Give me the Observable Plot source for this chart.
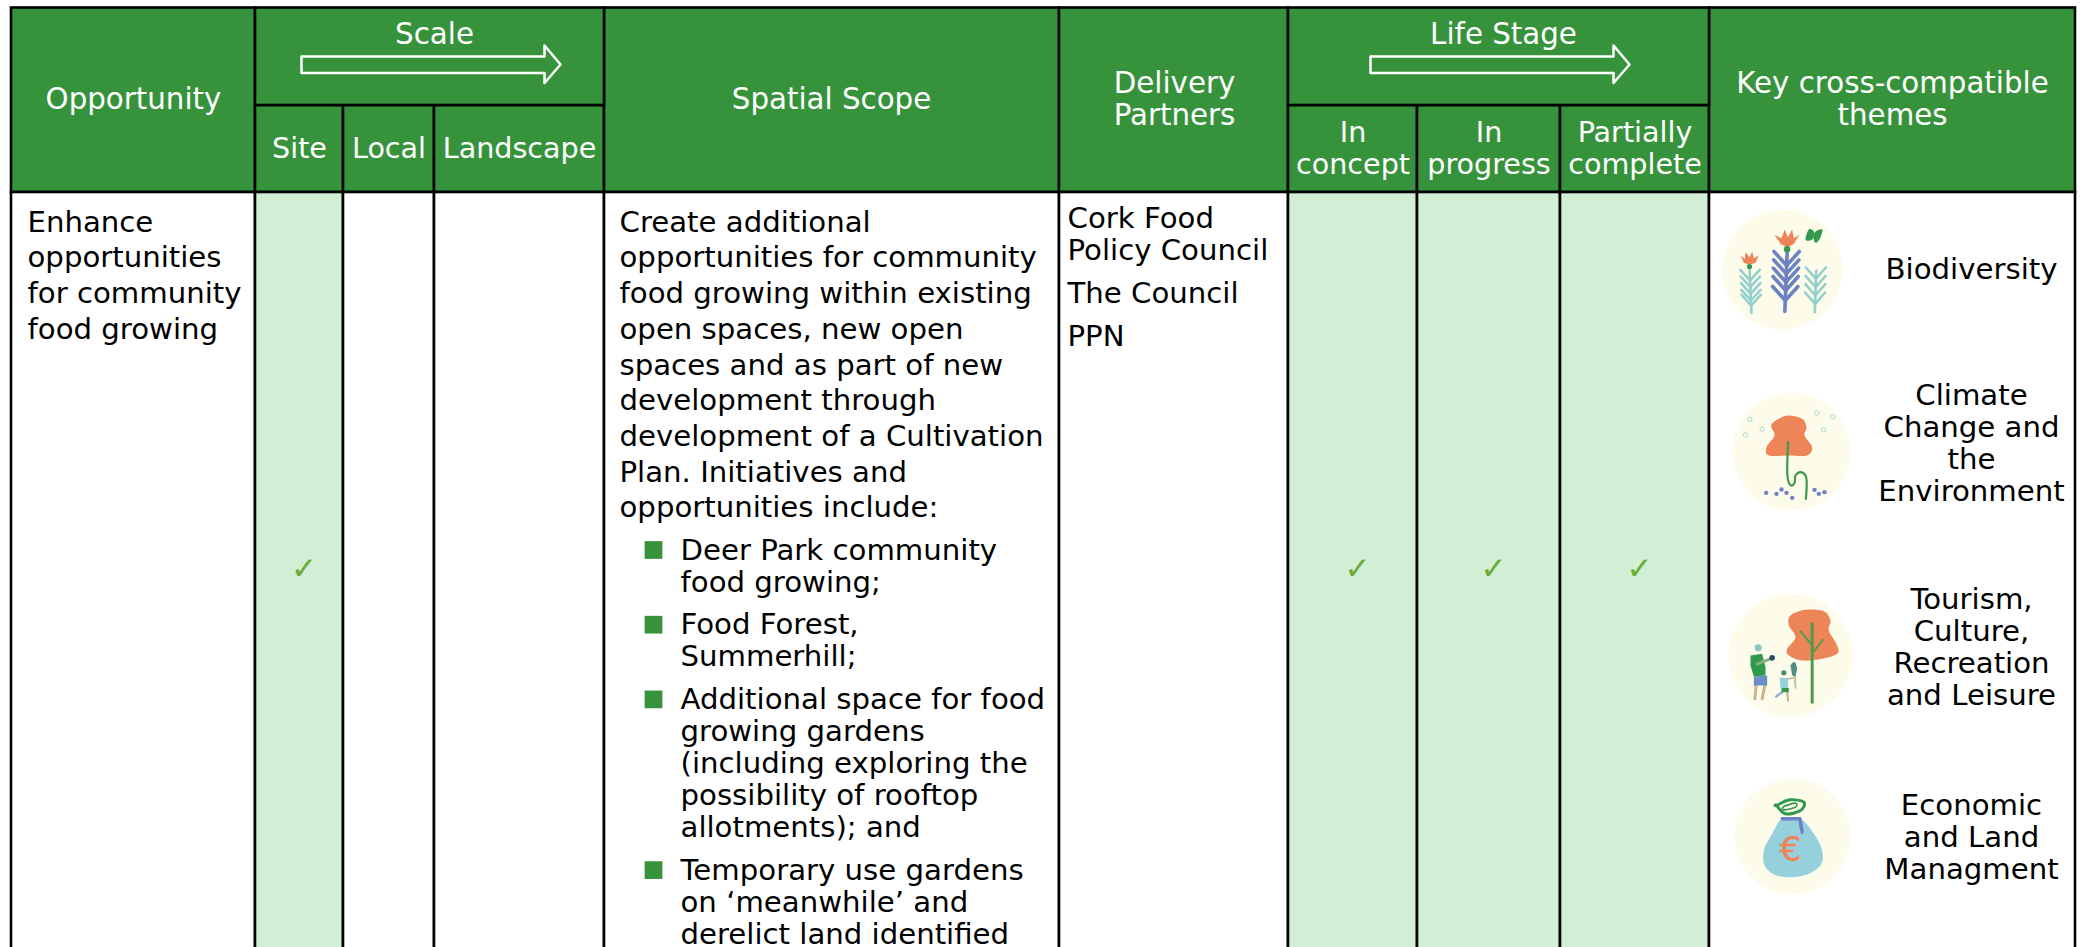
<!DOCTYPE html>
<html><head><meta charset="utf-8">
<script src="https://cdn.jsdelivr.net/npm/d3@7"></script>
<script src="https://cdn.jsdelivr.net/npm/@observablehq/plot@0.6"></script>
<style>html,body{margin:0;padding:0;background:#fff;overflow:hidden}svg{display:block}</style>
</head><body><div id="c"></div>
<script>
// --- table content ---
const headers = ["Opportunity","Spatial Scope","Delivery\nPartners","Key cross-compatible\nthemes"];
const groupHeaders = ["Scale","Life Stage"];
const scaleColumns = ["Site","Local","Landscape"];
const stageColumns = ["In\nconcept","In\nprogress","Partially\ncomplete"];
const ticked = ["Site","In\nconcept","In\nprogress","Partially\ncomplete"];
const opportunity = ["Enhance","opportunities","for community","food growing"];
const scopeIntro = ["Create additional","opportunities for community","food growing within existing","open spaces, new open","spaces and as part of new","development through","development of a Cultivation","Plan. Initiatives and","opportunities include:"];
const scopeBullets = [["Deer Park community","food growing;"],["Food Forest,","Summerhill;"],["Additional space for food","growing gardens","(including exploring the","possibility of rooftop","allotments); and"],["Temporary use gardens","on ‘meanwhile’ and","derelict land identified"]];
const partners = [["Cork Food","Policy Council"],["The Council"],["PPN"]];
const themes = ["Biodiversity","Climate\nChange and\nthe\nEnvironment","Tourism,\nCulture,\nRecreation\nand Leisure","Economic\nand Land\nManagment"];

// --- layout of the page, in the picture's pixels ---
const W=2089,H=947, yTop=7.5, yMid=105, yBot=192, edges=[11,255,343,434,604,1059,1288,1417,1560,1709,2075];
const green="#36933c", pale="#d2eed4", fs=29.2, headFs=29.3, subFs=28.6;
const cols=[
 {name:"Opportunity",i:0,group:0},{name:"Site",i:1},{name:"Local",i:2},{name:"Landscape",i:3},
 {name:"Spatial Scope",i:4,group:0},{name:"Delivery\nPartners",i:5,group:0},
 {name:"In\nconcept",i:6},{name:"In\nprogress",i:7},{name:"Partially\ncomplete",i:8},
 {name:"Key cross-compatible\nthemes",i:9,group:0}];
const cells=[];
for(const c of cols){
  cells.push({x1:edges[c.i],x2:edges[c.i+1],y1:c.group===0?yTop:yMid,y2:yBot,fill:green});
  cells.push({x1:edges[c.i],x2:edges[c.i+1],y1:yBot,y2:H+10,fill:ticked.includes(c.name)?pale:"white"});
}
cells.push({x1:edges[1],x2:edges[4],y1:yTop,y2:yMid,fill:green});
cells.push({x1:edges[6],x2:edges[9],y1:yTop,y2:yMid,fill:green});

const mx=c=>(edges[c.i]+edges[c.i+1])/2;
const headLabels=[
 {t:headers[0],x:133,y:98},{t:headers[1],x:831,y:98},{t:headers[2],x:1174,y:98},{t:headers[3],x:1892,y:98},
 {t:groupHeaders[0],x:434,y:33},{t:groupHeaders[1],x:1503,y:33}
];
const subLabels=cols.filter(c=>scaleColumns.includes(c.name)||stageColumns.includes(c.name)).map(c=>({t:c.name,x:mx(c),y:147}));
const body=[];
opportunity.forEach((t,k)=>body.push({t,x:27,y:221+k*35.7}));
scopeIntro.forEach((t,k)=>body.push({t,x:619,y:221+k*35.7}));
const bullets=[]; let by=549;
scopeBullets.forEach((b,k)=>{bullets.push({x:653,y:by+0.5});b.forEach(t=>{body.push({t,x:680,y:by});by+=32});by+=10.7;});
let py=217; partners.forEach((p,k)=>{p.forEach(t=>{body.push({t,x:1067,y:py});py+=32});py+=11});
const themeY=[268,442,646,836];
const themeLabels=themes.map((t,k)=>({t,x:1971,y:themeY[k]}));
const checks=ticked.map(n=>mx(cols.find(c=>c.name===n))).map(x=>({x:x+4.5,y:569}));
const arrowSpans=[[301,560],[1370,1629]];
const arrows=arrowSpans.map(([a,b])=>[[a,56],[b-16,56],[b-16,45],[b,64],[b-16,82.5],[b-16,72.5],[a,72.5],[a,56]].map(([x,y])=>({x,y})));

// --- theme icons: outlines, in crop coordinates ---
const cream="#fdfceb", orange="#ee8559", leafGreen="#2f9a4c", blue="#6c82c4", teal="#93d0cb", sky="#95d0dc";
const P=(ox,oy,pts)=>pts.map(([x,y])=>({x:ox+x/3,y:oy+y/3}));
const blob=(pts,fill,curve="cardinal-closed")=>Plot.line(pts,{x:"x",y:"y",fill,stroke:"none",curve});
const wire=(pts,stroke,strokeWidth=2,curve="linear")=>Plot.line(pts,{x:"x",y:"y",stroke,strokeWidth,curve});
const badges=[{x:1782,y:269,r:60},{x:1791,y:451,r:59},{x:1790,y:655,r:62},{x:1792,y:836,r:58}];

const A=(p)=>P(1725,205,p), B=(p)=>P(1700,190,p), C=(p)=>P(1735,590,p), D=(p)=>P(1700,570,p);
const fern=(xb,yb,xt,yt,ys,dx,dy,color,w)=>[wire(A([[xb,yb],[xt,yt]]),color,w),
  ...ys.flatMap(v=>{const sx=xb+(xt-xb)*(yb-v)/(yb-yt);return [wire(A([[sx,v],[sx-dx,v-dy]]),color,w),wire(A([[sx,v],[sx+dx,v-dy]]),color,w)]})];
const iconMarks=[
 Plot.dot(badges,{x:"x",y:"y",r:"r",fill:cream}),
 // biodiversity
 ...fern(78,322,72,190,[225,245,265,285,300],29,32,teal,2.6),
 ...fern(178,318,185,140,[180,205,230,255,285],38,42,blue,3.6),
 ...fern(268,320,272,195,[220,245,270,295],30,34,teal,2.6),
 blob(A([[45,150],[58,160],[60,140],[72,155],[80,138],[85,158],[100,150],[90,172],[72,178],[55,172]]),orange,"linear-closed"),
 blob(A([[147,88],[168,98],[178,72],[187,95],[200,72],[205,98],[222,88],[205,115],[185,127],[165,115]]),orange,"linear-closed"),
 Plot.dot(A([[72,183]]),{x:"x",y:"y",r:2.6,fill:leafGreen}),
 Plot.dot(A([[185,131]]),{x:"x",y:"y",r:3.2,fill:leafGreen}),
 blob(A([[240,100],[250,72],[265,78],[262,100],[248,106]]),leafGreen,"cardinal-closed"),
 blob(A([[268,80],[290,72],[285,95],[272,112],[264,100]]),leafGreen,"cardinal-closed"),
 // climate
 blob(B([[265,675],[305,685],[318,710],[312,735],[335,770],[320,795],[265,795],[205,795],[198,770],[222,735],[212,705],[235,685]]),orange),
 wire(B([[263,755],[263,870],[272,885],[282,878],[285,855],[300,845],[315,855],[316,925]]),"#3a9a48",2.2,"catmull-rom"),
 Plot.dot(B([[197,907],[228,910],[243,897],[258,907],[275,922],[342,898],[355,910],[372,905]]),{x:"x",y:"y",r:2.2,fill:blue}),
 Plot.dot(B([[148,687],[185,716],[135,733],[349,668],[397,679],[370,718]]),{x:"x",y:"y",r:2.2,stroke:teal,strokeWidth:0.8,fill:"none"}),
 // tourism
 blob(C([[165,75],[210,58],[265,62],[285,90],[280,120],[305,165],[305,190],[260,205],[200,210],[160,195],[155,175],[180,140],[160,105]]),orange),
 wire(C([[230,100],[230,335]]),"#4f9a4a",3),
 wire(C([[195,122],[230,165]]),"#5a9a4a",2),wire(C([[262,148],[230,190]]),"#5a9a4a",2),
 wire(C([[62,285],[58,325]]),"#c9b48e",3),wire(C([[88,285],[80,325]]),"#c9b48e",3),
 blob(C([[55,258],[95,255],[95,285],[55,285]]),"#6c8fc8","linear-closed"),
 blob(C([[45,195],[80,190],[90,230],[90,255],[55,258],[45,225]]),leafGreen,"linear-closed"),
 Plot.dot(C([[68,172]]),{x:"x",y:"y",r:3.6,fill:"#8fc5c5"}),
 wire(C([[65,220],[105,205]]),"#7fb37a",3),
 Plot.dot(C([[110,202]]),{x:"x",y:"y",r:2.8,fill:"#2d4a6a"}),
 Plot.dot(C([[145,247]]),{x:"x",y:"y",r:2.6,fill:"#4b8a6a"}),
 wire(C([[140,305],[122,318]]),"#8fa8d8",2.2),wire(C([[155,305],[158,330]]),"#c9b48e",2.2),
 blob(C([[132,262],[158,262],[158,292],[135,292]]),sky,"linear-closed"),
 blob(C([[138,292],[160,292],[160,305],[138,305]]),leafGreen,"linear-closed"),
 wire(C([[158,265],[178,262]]),"#c9b48e",1.6),
 wire(C([[178,258],[180,292]]),"#b8c8a8",2),
 blob(C([[165,225],[172,215],[180,215],[185,235],[180,258],[170,255]]),"#4f8f80","linear-closed"),
 // economic
 blob(D([[245,745],[300,745],[340,790],[365,840],[360,885],[310,915],[240,918],[195,890],[190,840],[215,790]]),sky),
 wire(D([[245,745],[298,745],[305,785]]),blue,3.5),
 wire(D([[228,705],[268,688],[310,695],[300,720],[255,730],[228,705]]),leafGreen,3,"cardinal-closed"),
 wire(D([[250,708],[285,698],[285,710],[250,718]]),leafGreen,1.6,"cardinal-closed"),
 Plot.text(D([[270,840]]),{x:"x",y:"y",text:()=>"€",fontFamily:"DejaVu Sans",fontSize:34,fill:orange,stroke:orange,strokeWidth:0.5})
];

const base={fontFamily:"DejaVu Sans",fontSize:fs,lineHeight:32/fs};
const plot=Plot.plot({width:W,height:H,margin:0,
 x:{domain:[0,W],range:[0,W],axis:null},y:{domain:[0,H],range:[0,H],axis:null},
 r:{type:"identity"},
 style:{background:"white"},
 marks:[
  Plot.rect(cells,{x1:"x1",x2:"x2",y1:"y1",y2:"y2",fill:"fill",stroke:"#000",strokeWidth:2.6}),
  ...arrows.map(a=>Plot.line(a,{x:"x",y:"y",stroke:"white",strokeWidth:2.5,curve:"linear"})),
  Plot.text(headLabels,{...base,fontSize:headFs,lineHeight:32/headFs,x:"x",y:"y",text:"t",fill:"white"}),
  Plot.text(subLabels,{...base,fontSize:subFs,lineHeight:32/subFs,x:"x",y:"y",text:"t",fill:"white"}),
  Plot.text(body,{...base,x:"x",y:"y",text:"t",fill:"black",textAnchor:"start"}),
  Plot.text(themeLabels,{...base,x:"x",y:"y",text:"t",fill:"black"}),
  Plot.dot(bullets,{x:"x",y:"y",symbol:"square",r:10,fill:green}),
  Plot.text(checks,{x:"x",y:"y",text:()=>"✓",fontSize:31,fontWeight:"bold",fill:"#6aad35",fontFamily:"DejaVu Sans"}),
  ...iconMarks
 ]});
document.getElementById("c").append(plot);
</script></body></html>
